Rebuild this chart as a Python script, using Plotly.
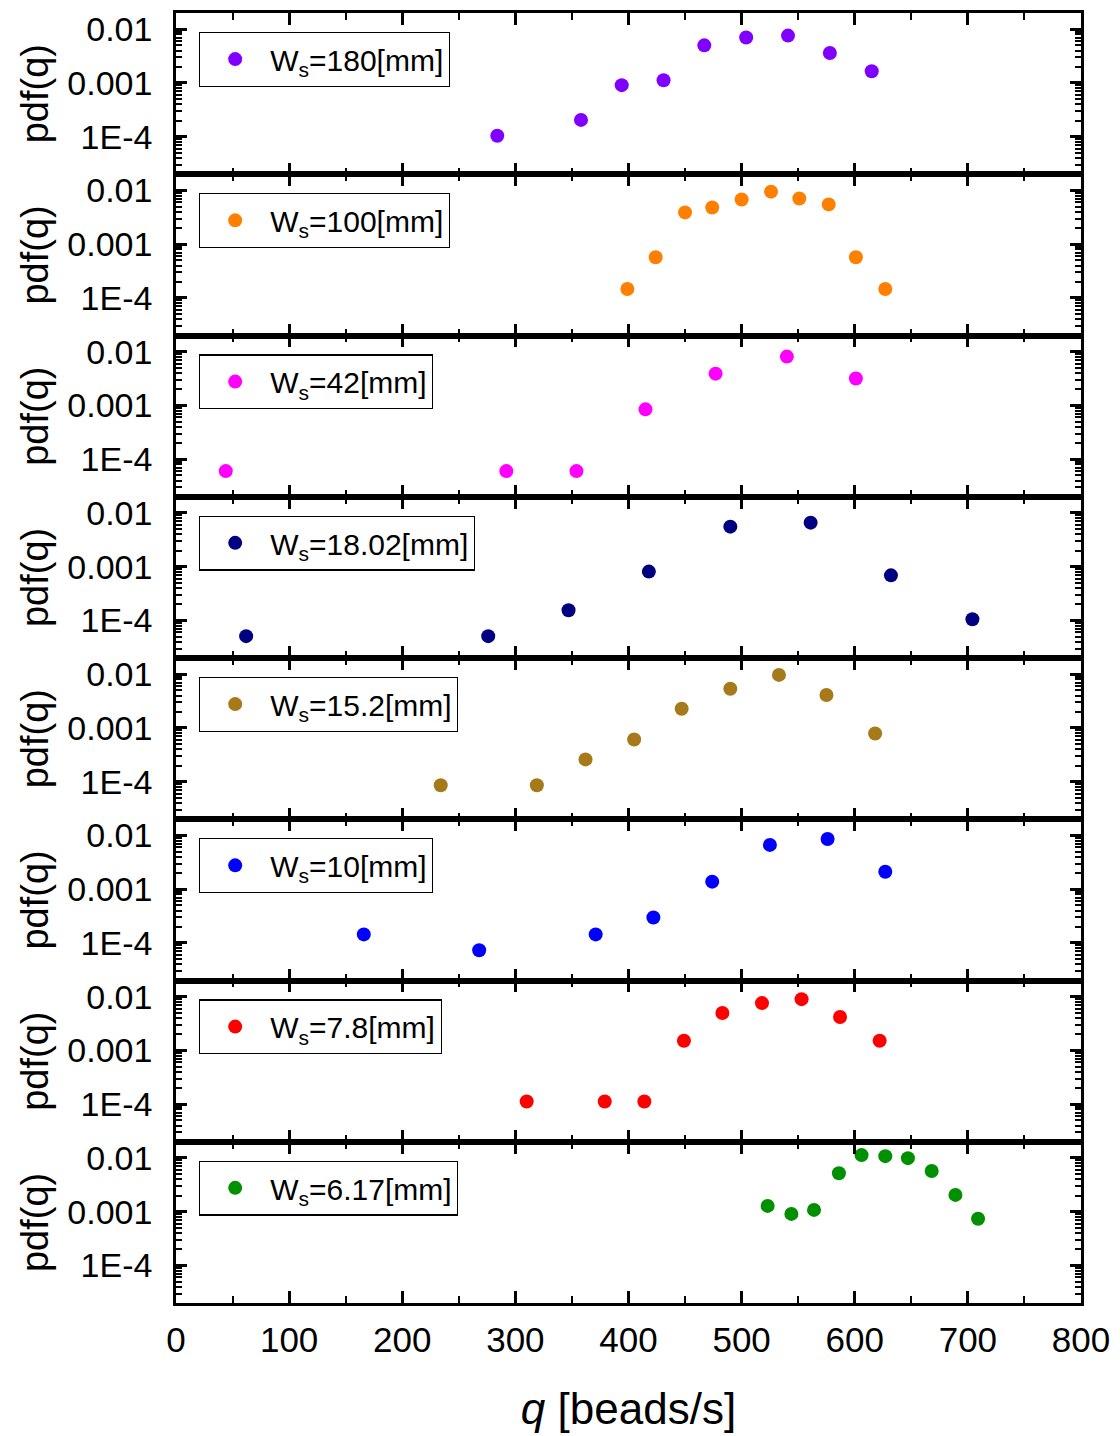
import math
import plotly.graph_objects as go
from plotly.subplots import make_subplots

# Strip widths W_s and the measured flow-rate distributions for each strip
labels = ["180", "100", "42", "18.02", "15.2", "10", "7.8", "6.17"]
colors = ["#8000ff", "#ff8000", "#ff00ff", "#000080",
          "#a67a1a", "#0000ff", "#ff0000", "#009000"]

q_180 = [284, 358, 394, 431, 467, 504, 541, 578, 615]
p_180 = [1.04e-4, 2.05e-4, 9.1e-4, 1.12e-3, 5.0e-3, 7.0e-3, 7.6e-3, 3.6e-3, 1.65e-3]

q_100 = [399, 424, 450, 474, 500, 526, 551, 577, 601, 627]
p_100 = [1.47e-4, 5.7e-4, 3.9e-3, 4.8e-3, 6.8e-3, 9.5e-3, 7.1e-3, 5.5e-3, 5.7e-4, 1.47e-4]

q_42 = [44, 292, 354, 415, 477, 540, 601]
p_42 = [6.0e-5, 6.0e-5, 6.0e-5, 8.45e-4, 3.9e-3, 8.1e-3, 3.17e-3]

q_18 = [62, 276, 347, 418, 490, 561, 632, 704]
p_18 = [5.1e-5, 5.1e-5, 1.55e-4, 8.1e-4, 5.55e-3, 6.6e-3, 6.9e-4, 1.05e-4]

q_15 = [234, 319, 362, 405, 447, 490, 533, 575, 618]
p_15 = [8.6e-5, 8.6e-5, 2.6e-4, 6.1e-4, 2.28e-3, 5.35e-3, 9.7e-3, 4.1e-3, 7.9e-4]

q_10 = [166, 268, 371, 422, 474, 525, 576, 627]
p_10 = [1.44e-4, 7.3e-5, 1.44e-4, 2.97e-4, 1.38e-3, 6.67e-3, 8.6e-3, 2.11e-3]

q_7 = [310, 379, 414, 449, 483, 518, 553, 587, 622]
p_7 = [1.12e-4, 1.12e-4, 1.12e-4, 1.51e-3, 4.97e-3, 7.6e-3, 9.0e-3, 4.2e-3, 1.51e-3]

q_6 = [523, 544, 564, 586, 606, 627, 647, 668, 689, 709]
p_6 = [1.28e-3, 9.1e-4, 1.08e-3, 5.2e-3, 1.13e-2, 1.08e-2, 9.9e-3, 5.7e-3, 2.05e-3, 7.4e-4]

series_q = [q_180, q_100, q_42, q_18, q_15, q_10, q_7, q_6]
series_p = [p_180, p_100, p_42, p_18, p_15, p_10, p_7, p_6]

y_tickvals = [1e-4, 1e-3, 1e-2]
y_ticktext = ["1E-4", "0.001", "0.01"]
y_min, y_max = 2e-5, 0.02

FONT = "Arial, Liberation Sans, sans-serif"
n = len(labels)

fig = make_subplots(rows=n, cols=1, shared_xaxes=True, vertical_spacing=0)

# minor log ticks (2..9 within every decade of the axis range)
minor_vals = [m * 10.0 ** e for e in range(-5, -1) for m in range(2, 10)
              if y_min <= m * 10.0 ** e <= y_max]

W, H = 1120, 1436
m_l, m_r, m_t, m_b = 176, 38, 10, 129
plot_h = H - m_t - m_b
panel_h = plot_h / n

for i in range(n):
    leg = "legend" if i == 0 else f"legend{i + 1}"
    fig.add_trace(
        go.Scatter(
            x=series_q[i], y=series_p[i], mode="markers",
            marker=dict(size=14, color=colors[i], line=dict(width=0)),
            name=f"W<sub>s</sub>=" + labels[i] + "[mm]",
            legend=leg, showlegend=True,
        ),
        row=i + 1, col=1,
    )
    top_px = i * panel_h + 19
    fig.update_layout({
        leg: dict(
            x=0.0254, y=1 - top_px / plot_h, xref="paper", yref="paper",
            xanchor="left", yanchor="top",
            bgcolor="white", bordercolor="black", borderwidth=1.2,
            font=dict(family=FONT, size=30, color="black"),
            itemwidth=60, tracegroupgap=0,
        )
    })
    fig.update_yaxes(
        type="log", range=[math.log10(y_min), math.log10(y_max)],
        tickmode="array", tickvals=y_tickvals, ticktext=y_ticktext,
        ticks="inside", ticklen=11, tickwidth=2.5, tickcolor="black",
        minor=dict(tickmode="array", tickvals=minor_vals, ticks="inside",
                   ticklen=6, tickwidth=2, tickcolor="black", showgrid=False),
        showline=True, linecolor="black", linewidth=2.5, mirror="ticks",
        showgrid=False, zeroline=False,
        tickfont=dict(family=FONT, size=34, color="black"),
        ticklabelstandoff=14,
        title=dict(text="pdf(q)", font=dict(family=FONT, size=38, color="black"),
                   standoff=8),
        row=i + 1, col=1,
    )
    fig.update_xaxes(
        range=[0, 800], tickmode="linear", tick0=0, dtick=100,
        ticks="inside", ticklen=12, tickwidth=2.5, tickcolor="black",
        minor=dict(tickmode="linear", tick0=0, dtick=50, ticks="inside",
                   ticklen=7, tickwidth=2, tickcolor="black", showgrid=False),
        showline=True, linecolor="black", linewidth=2.5, mirror="ticks",
        showgrid=False, zeroline=False,
        showticklabels=(i == n - 1),
        tickfont=dict(family=FONT, size=35, color="black"),
        row=i + 1, col=1,
    )

fig.update_xaxes(
    title=dict(text="<i>q</i> [beads/s]", font=dict(family=FONT, size=44, color="black"),
               standoff=36),
    ticklabelstandoff=4,
    row=n, col=1,
)

fig.update_layout(
    width=W, height=H,
    margin=dict(l=m_l, r=m_r, t=m_t, b=m_b),
    paper_bgcolor="white", plot_bgcolor="white",
    font=dict(family=FONT, color="black"),
)

fig.write_html("out.html")
